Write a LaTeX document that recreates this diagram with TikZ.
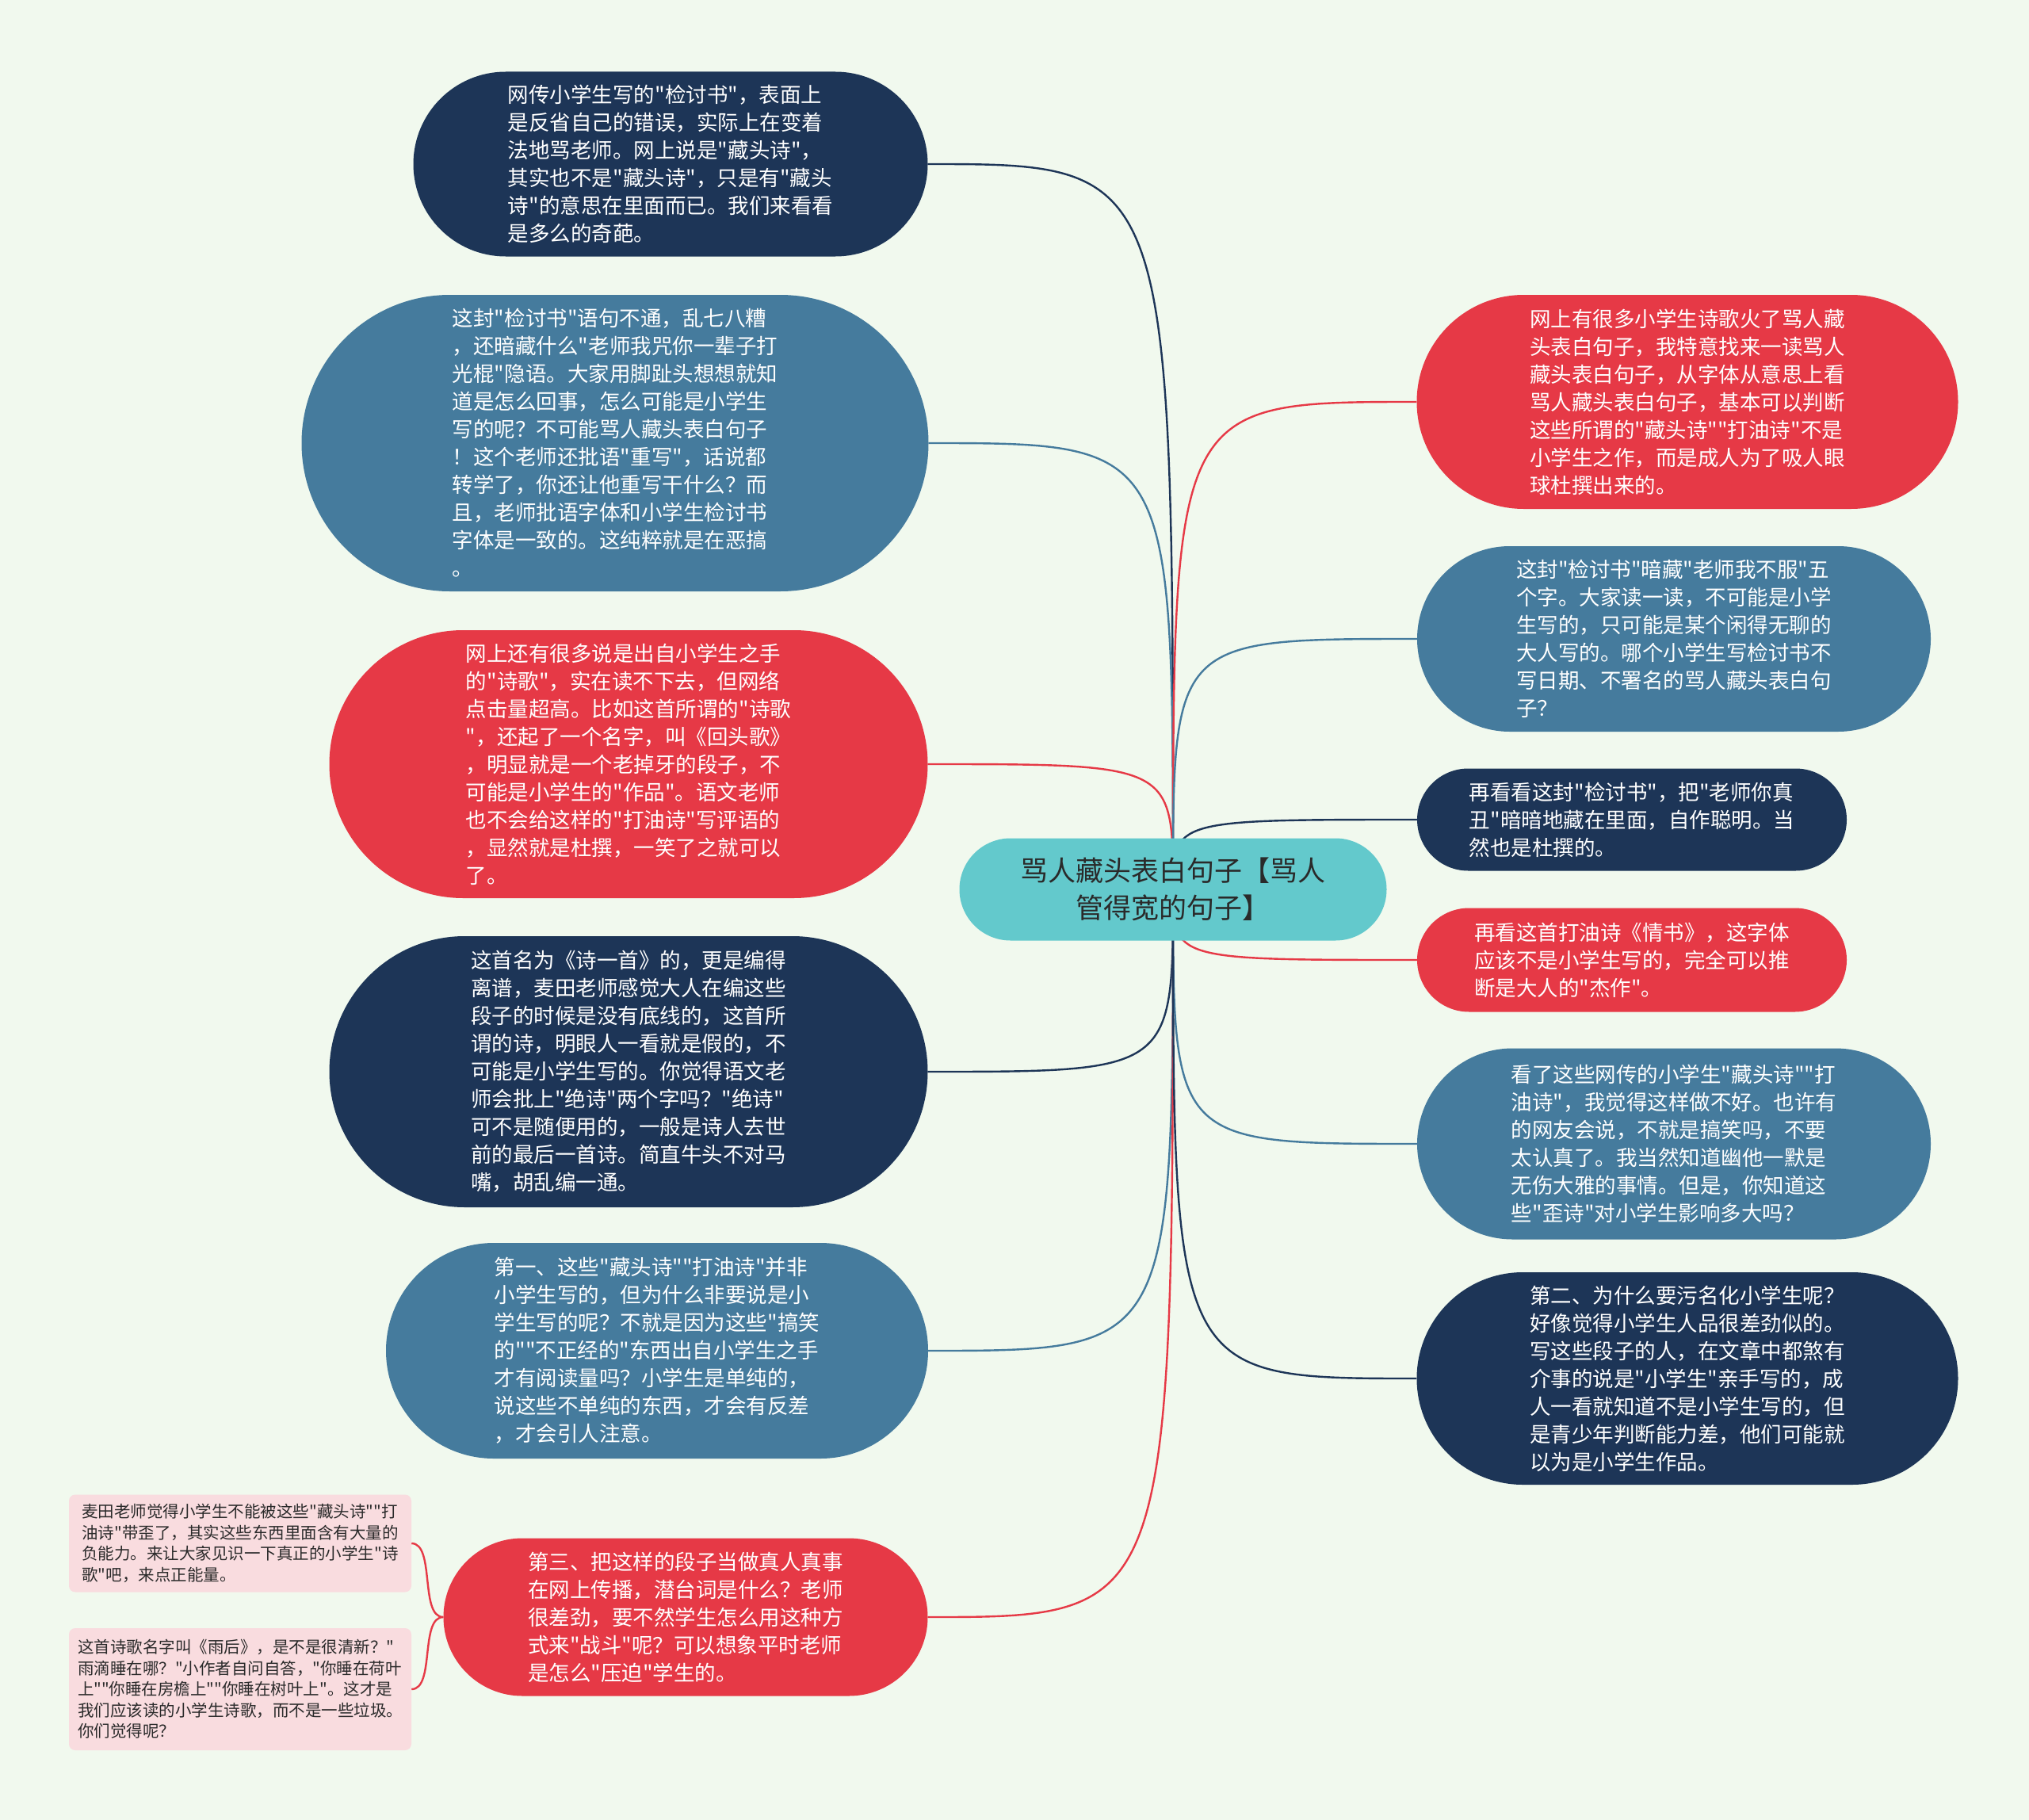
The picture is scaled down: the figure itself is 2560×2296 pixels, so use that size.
\documentclass[tikz,border=0pt]{standalone}
\usepackage{fontspec}
\newfontfamily\mapfont{Noto Sans CJK SC}
\usetikzlibrary{shapes.misc,backgrounds}
\definecolor{mapbg}{HTML}{F1F9EE}
\definecolor{mapnavy}{HTML}{1D3557}
\definecolor{mapsteel}{HTML}{457B9D}
\definecolor{mapred}{HTML}{E63946}
\definecolor{maproot}{HTML}{63C9CC}
\definecolor{mappink}{HTML}{F9DCDF}
\definecolor{maptext}{HTML}{2A2A2A}

\begin{document}
\begin{tikzpicture}[
x=1pt, y=-1pt,
topic/.style={rounded rectangle, fill=#1, text=white, align=left, inner sep=0pt, font=\mapfont\fontsize{26.5}{35}\selectfont},
rootbox/.style={rounded rectangle, fill=maproot, text=maptext, align=center, inner sep=0pt, font=\mapfont\fontsize{35}{47}\selectfont},
note/.style={rectangle, rounded corners=8pt, fill=mappink, text=maptext, align=left, inner sep=10pt, font=\mapfont\fontsize{20.5}{26.5}\selectfont},
link/.style={draw=#1, line width=2.4pt}
]
\useasboundingbox (0,0) rectangle (2560,2296);

% centre
\node (root) [rootbox, minimum width=539pt, minimum height=129pt] at (1480,1122) {骂人藏头表白句子【骂人\\管得宽的句子】};

% left side
\node (n1) [topic=mapnavy, minimum width=649pt, minimum height=233pt] at (846,207) {网传小学生写的"检讨书"，表面上\\是反省自己的错误，实际上在变着\\法地骂老师。网上说是"藏头诗"，\\其实也不是"藏头诗"，只是有"藏头\\诗"的意思在里面而已。我们来看看\\是多么的奇葩。};
\node (n2) [topic=mapsteel, minimum width=791pt, minimum height=374pt] at (776,559) {这封"检讨书"语句不通，乱七八糟\\，还暗藏什么"老师我咒你一辈子打\\光棍"隐语。大家用脚趾头想想就知\\道是怎么回事，怎么可能是小学生\\写的呢？不可能骂人藏头表白句子\\！这个老师还批语"重写"，话说都\\转学了，你还让他重写干什么？而\\且，老师批语字体和小学生检讨书\\字体是一致的。这纯粹就是在恶搞\\。};
\node (n3) [topic=mapred, minimum width=755pt, minimum height=338pt] at (793,964) {网上还有很多说是出自小学生之手\\的"诗歌"，实在读不下去，但网络\\点击量超高。比如这首所谓的"诗歌\\"，还起了一个名字，叫《回头歌》\\，明显就是一个老掉牙的段子，不\\可能是小学生的"作品"。语文老师\\也不会给这样的"打油诗"写评语的\\，显然就是杜撰，一笑了之就可以\\了。};
\node (n4) [topic=mapnavy, minimum width=755pt, minimum height=342pt] at (793,1352) {这首名为《诗一首》的，更是编得\\离谱，麦田老师感觉大人在编这些\\段子的时候是没有底线的，这首所\\谓的诗，明眼人一看就是假的，不\\可能是小学生写的。你觉得语文老\\师会批上"绝诗"两个字吗？"绝诗"\\可不是随便用的，一般是诗人去世\\前的最后一首诗。简直牛头不对马\\嘴，胡乱编一通。};
\node (n5) [topic=mapsteel, minimum width=684pt, minimum height=272pt] at (829,1704) {第一、这些"藏头诗""打油诗"并非\\小学生写的，但为什么非要说是小\\学生写的呢？不就是因为这些"搞笑\\的""不正经的"东西出自小学生之手\\才有阅读量吗？小学生是单纯的，\\说这些不单纯的东西，才会有反差\\，才会引人注意。};
\node (n6) [topic=mapred, minimum width=611pt, minimum height=199pt] at (865,2040) {第三、把这样的段子当做真人真事\\在网上传播，潜台词是什么？老师\\很差劲，要不然学生怎么用这种方\\式来"战斗"呢？可以想象平时老师\\是怎么"压迫"学生的。};

% notes under n6
\node (p1) [note, minimum width=432pt, minimum height=123pt] at (303,1947) {麦田老师觉得小学生不能被这些"藏头诗""打\\油诗"带歪了，其实这些东西里面含有大量的\\负能力。来让大家见识一下真正的小学生"诗\\歌"吧，来点正能量。};
\node (p2) [note, minimum width=432pt, minimum height=154pt] at (303,2131) {这首诗歌名字叫《雨后》，是不是很清新？"\\雨滴睡在哪？"小作者自问自答，"你睡在荷叶\\上""你睡在房檐上""你睡在树叶上"。这才是\\我们应该读的小学生诗歌，而不是一些垃圾。\\你们觉得呢？};

% right side
\node (r1) [topic=mapred, minimum width=683pt, minimum height=270pt] at (2129,507) {网上有很多小学生诗歌火了骂人藏\\头表白句子，我特意找来一读骂人\\藏头表白句子，从字体从意思上看\\骂人藏头表白句子，基本可以判断\\这些所谓的"藏头诗""打油诗"不是\\小学生之作，而是成人为了吸人眼\\球杜撰出来的。};
\node (r2) [topic=mapsteel, minimum width=648pt, minimum height=234pt] at (2112,806) {这封"检讨书"暗藏"老师我不服"五\\个字。大家读一读，不可能是小学\\生写的，只可能是某个闲得无聊的\\大人写的。哪个小学生写检讨书不\\写日期、不署名的骂人藏头表白句\\子？};
\node (r3) [topic=mapnavy, minimum width=542pt, minimum height=129pt] at (2059,1034) {再看看这封"检讨书"，把"老师你真\\丑"暗暗地藏在里面，自作聪明。当\\然也是杜撰的。};
\node (r4) [topic=mapred, minimum width=542pt, minimum height=131pt] at (2059,1211) {再看这首打油诗《情书》，这字体\\应该不是小学生写的，完全可以推\\断是大人的"杰作"。};
\node (r5) [topic=mapsteel, minimum width=648pt, minimum height=241pt] at (2112,1443) {看了这些网传的小学生"藏头诗""打\\油诗"，我觉得这样做不好。也许有\\的网友会说，不就是搞笑吗，不要\\太认真了。我当然知道幽他一默是\\无伤大雅的事情。但是，你知道这\\些"歪诗"对小学生影响多大吗？};
\node (r6) [topic=mapnavy, minimum width=683pt, minimum height=268pt] at (2129,1739) {第二、为什么要污名化小学生呢？\\好像觉得小学生人品很差劲似的。\\写这些段子的人，在文章中都煞有\\介事的说是"小学生"亲手写的，成\\人一看就知道不是小学生写的，但\\是青少年判断能力差，他们可能就\\以为是小学生作品。};

\begin{scope}[on background layer]
\fill[mapbg] (0,0) rectangle (2560,2296);
% links
\draw [link=mapnavy] (root.center) .. controls (root.center |- n1.east) .. (n1.east);
\draw [link=mapsteel] (root.center) .. controls (root.center |- n2.east) .. (n2.east);
\draw [link=mapred] (root.center) .. controls (root.center |- n3.east) .. (n3.east);
\draw [link=mapnavy] (root.center) .. controls (root.center |- n4.east) .. (n4.east);
\draw [link=mapsteel] (root.center) .. controls (root.center |- n5.east) .. (n5.east);
\draw [link=mapred] (root.center) .. controls (root.center |- n6.east) .. (n6.east);
\draw [link=mapred] (root.center) .. controls (root.center |- r1.west) .. (r1.west);
\draw [link=mapsteel] (root.center) .. controls (root.center |- r2.west) .. (r2.west);
\draw [link=mapnavy] (root.center) .. controls (root.center |- r3.west) .. (r3.west);
\draw [link=mapred] (root.center) .. controls (root.center |- r4.west) .. (r4.west);
\draw [link=mapsteel] (root.center) .. controls (root.center |- r5.west) .. (r5.west);
\draw [link=mapnavy] (root.center) .. controls (root.center |- r6.west) .. (r6.west);
\draw [link=mapred] (n6.west) .. controls +(-30,0) and +(30,0) .. (p1.east);
\draw [link=mapred] (n6.west) .. controls +(-30,0) and +(30,0) .. (p2.east);
\end{scope}
\end{tikzpicture}
\end{document}
